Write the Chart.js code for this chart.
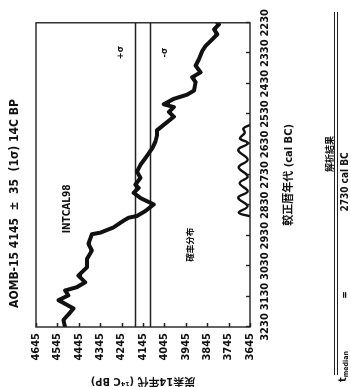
<!DOCTYPE html>
<html>
<head>
<meta charset="utf-8">
<title>AOMB-15 較正暦年代</title>
<script src="https://cdn.jsdelivr.net/npm/chart.js@4/dist/chart.umd.min.js"></script>
<style>
  html, body { margin: 0; padding: 0; background: #fff; width: 351px; height: 387px; overflow: hidden; }
  /* the sheet is laid out landscape and turned a quarter turn to stand in the portrait page */
  #sheet { position: absolute; left: 0; top: 0; width: 387px; height: 351px; background: #fff;
           transform-origin: 0 0; transform: translate(0, 387px) rotate(-90deg); }
  #sheet canvas { position: absolute; left: 0; top: 0; }
  .res { position: absolute; color: #111; white-space: nowrap; line-height: 1;
         font-family: 'Liberation Sans Narrow', 'DejaVu Sans Condensed', 'Noto Sans CJK JP', sans-serif; font-weight: bold; }
  #hdr { left: 233px; top: 329px; transform: translate(-50%, -50%); font-size: 9px; font-family: 'Noto Sans CJK JP', sans-serif; }
  .rule { position: absolute; left: 12px; width: 363px; height: 0; border-top: 1.3px solid #222; }
  #tm { left: 5px; top: 345px; transform: translateY(-60%); font-size: 11px; }
  #tm sub { font-size: 7px; vertical-align: -2px; }
  #eq { left: 92px; top: 345px; transform: translate(-50%, -50%); font-size: 10px; }
  #val { left: 205px; top: 345px; transform: translate(-50%, -50%); font-size: 10px; }
</style>
</head>
<body>
<div id="sheet">
  <canvas id="chart" width="387" height="351"></canvas>
  <div class="res" id="hdr">解析結果</div>
  <div class="rule" style="top:333.5px"></div>
  <div class="rule" style="top:336.5px"></div>
  <div class="res" id="tm">t<sub>median</sub></div>
  <div class="res" id="eq">=</div>
  <div class="res" id="val">2730 cal BC</div>
</div>
<script>
// INTCAL98 calibration curve (cal BC vs 14C BP)
const curveCalBC = [3230, 3207, 3190, 3169, 3142, 3126, 3110, 3099, 3083, 3061, 3034, 3006, 2979, 2957,
  2925, 2920, 2903, 2881, 2871, 2865, 2849, 2827, 2806, 2789, 2773, 2762, 2740, 2719, 2697, 2675,
  2643, 2621, 2599, 2583, 2539, 2523, 2507, 2498, 2480, 2466, 2453, 2425, 2409, 2393, 2371, 2350,
  2322, 2306, 2290, 2268, 2252, 2235, 2230];
const curveBP = [4509, 4517, 4495, 4470, 4540, 4494, 4509, 4454, 4415, 4447, 4407, 4407, 4384, 4400,
  4384, 4345, 4284, 4237, 4213, 4173, 4134, 4095, 4157, 4189, 4165, 4181, 4157, 4173, 4157, 4134,
  4102, 4087, 4079, 4079, 4001, 4024, 4001, 4048, 4001, 3938, 3907, 3899, 3915, 3876, 3899, 3884,
  3868, 3852, 3829, 3798, 3813, 3790, 3798];

// calibrated probability distribution (relative density)
const probCalBC = [2866, 2854, 2833, 2805, 2784, 2757, 2735, 2705, 2680, 2648, 2626, 2610, 2592, 2577, 2566];
const probDensity = [0.0, 0.95, 0.2, 1.0, 0.2, 0.88, 0.2, 0.95, 0.2, 1.0, 0.17, 0.85, 0.45, 0.56, 0.0];

// measured radiocarbon age
const measuredBP = 4145;
const sigmaBP = 35;

// axis ticks
const calTicks = [3230, 3130, 3030, 2930, 2830, 2730, 2630, 2530, 2430, 2330, 2230];
const bpTicks = [3645, 3745, 3845, 3945, 4045, 4145, 4245, 4345, 4445, 4545, 4645];

const FONT = "'Liberation Sans Narrow', 'DejaVu Sans Condensed', 'Noto Sans CJK JP', sans-serif";
const INK = '#111';
const probBase = bpTicks[0];
const probHeight = 55;

const curvePts = curveCalBC.map((c, i) => ({ x: c, y: curveBP[i] }));
const probPts = probCalBC.map((c, i) => ({ x: c, y: probBase + probDensity[i] * probHeight }));
const xMin = Math.min(...calTicks), xMax = Math.max(...calTicks);
const plusPts = [{ x: xMax, y: measuredBP + sigmaBP }, { x: xMin, y: measuredBP + sigmaBP }];
const minusPts = [{ x: xMax, y: measuredBP - sigmaBP }, { x: xMin, y: measuredBP - sigmaBP }];

// labels placed in data coordinates
const notes = [
  { text: 'INTCAL98', x: 2842, y: 4497, size: 10 },
  { text: '確率分布', x: 2960, y: 3927, size: 8.5, cjk: true },
  { text: '+σ', x: 2328, y: 4251, size: 9 },
  { text: '-σ', x: 2328, y: 4045, size: 9 }
];

const framePlugin = {
  id: 'frameAndNotes',
  afterDatasetsDraw(chart) {
    const { ctx, chartArea: a, scales: { x, y } } = chart;
    ctx.save();
    ctx.strokeStyle = '#222';
    ctx.lineWidth = 1.4;
    ctx.strokeRect(a.left, a.top, a.right - a.left, a.bottom - a.top);
    ctx.beginPath();
    x.ticks.forEach(t => {
      const px = Math.round(x.getPixelForValue(t.value)) + 0.5;
      ctx.moveTo(px, a.bottom); ctx.lineTo(px, a.bottom - 4);
    });
    y.ticks.forEach(t => {
      const py = Math.round(y.getPixelForValue(t.value)) + 0.5;
      ctx.moveTo(a.left, py); ctx.lineTo(a.left + 4, py);
    });
    ctx.stroke();
    ctx.fillStyle = INK;
    ctx.textAlign = 'center';
    ctx.textBaseline = 'middle';
    notes.forEach(n => {
      ctx.font = 'bold ' + n.size + 'px ' + (n.cjk ? "'Noto Sans CJK JP', sans-serif" : FONT);
      ctx.fillText(n.text, x.getPixelForValue(n.x), y.getPixelForValue(n.y));
    });
    ctx.restore();
  }
};

new Chart(document.getElementById('chart'), {
  type: 'line',
  data: {
    datasets: [
      { data: curvePts, borderColor: INK, borderWidth: 4, pointRadius: 0, tension: 0, borderJoinStyle: 'round', borderCapStyle: 'round' },
      { data: probPts, borderColor: INK, borderWidth: 2.4, pointRadius: 0, tension: 0.4 },
      { data: plusPts, borderColor: '#222', borderWidth: 1.3, pointRadius: 0 },
      { data: minusPts, borderColor: '#222', borderWidth: 1.3, pointRadius: 0 }
    ]
  },
  options: {
    responsive: false,
    animation: false,
    events: [],
    layout: { padding: { left: 0, right: 20, top: 0, bottom: 0 } },
    plugins: {
      legend: { display: false },
      tooltip: { enabled: false },
      title: {
        display: true,
        text: 'AOMB-15 4145  ±  35  (1σ) 14C BP',
        color: INK,
        font: { family: FONT, size: 12, weight: 'bold' },
        padding: { top: 8, bottom: 13.6 }
      }
    },
    scales: {
      x: {
        type: 'linear', reverse: true, min: xMin, max: xMax,
        afterBuildTicks: s => { s.ticks = calTicks.map(v => ({ value: v })); },
        afterFit: s => { s.height = 101; },
        grid: { display: false, drawTicks: false },
        border: { display: false },
        ticks: { padding: 9, maxRotation: 0, autoSkip: false, color: INK,
                 font: { family: FONT, size: 11, weight: 'bold' }, callback: v => String(v) },
        title: { display: true, text: '較正暦年代 (cal BC)', color: INK,
                 font: { family: FONT, size: 11, weight: 'bold' }, padding: { top: 0, bottom: 55 } }
      },
      y: {
        type: 'linear', min: Math.min(...bpTicks), max: Math.max(...bpTicks),
        afterBuildTicks: s => { s.ticks = bpTicks.map(v => ({ value: v })); },
        afterFit: s => { s.width = 60; },
        grid: { display: false, drawTicks: false },
        border: { display: false },
        ticks: { padding: 6, autoSkip: false, color: INK,
                 font: { family: FONT, size: 11, weight: 'bold' }, callback: v => String(v) },
        title: { display: true, text: '炭素14年代 (¹⁴C BP)', color: INK,
                 font: { family: FONT, size: 11, weight: 'bold' }, padding: { top: 0, bottom: 0 } }
      }
    }
  },
  plugins: [framePlugin]
});
</script>
</body>
</html>
